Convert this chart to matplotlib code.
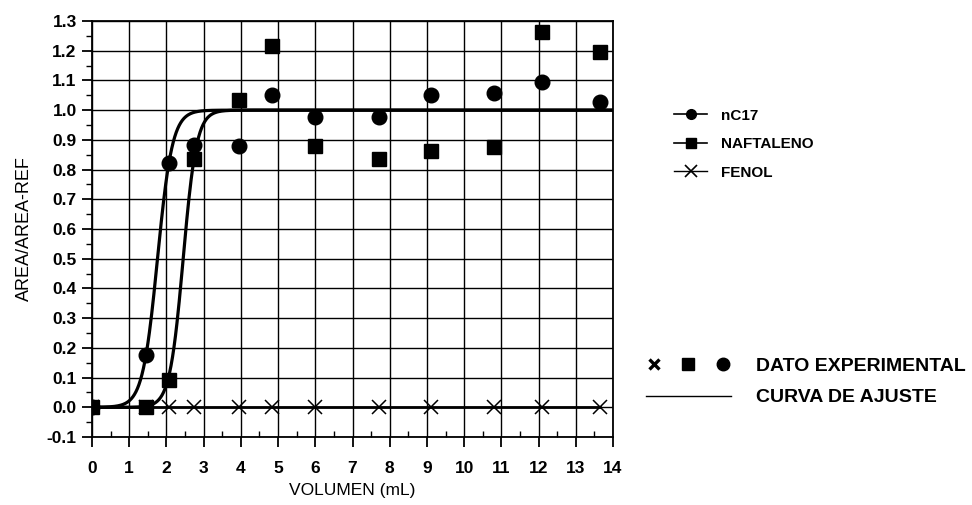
import numpy as np
import matplotlib
matplotlib.use("Agg")
import matplotlib.pyplot as plt
from matplotlib.lines import Line2D
from matplotlib.legend_handler import HandlerTuple
from matplotlib.ticker import MultipleLocator

# Sampled volumes (mL)
volumen = [0.0, 1.44, 2.07, 2.74, 3.95, 4.83, 5.99, 7.72, 9.11, 10.79, 12.09, 13.66]

# Normalised area ratios
nc17 = [0.0, 0.176, 0.823, 0.883, 0.879, 1.051, 0.978, 0.978, 1.051, 1.059, 1.096, 1.026]
naftaleno = [0.0, 0.0, 0.092, 0.835, 1.034, 1.216, 0.879, 0.835, 0.863, 0.877, 1.264, 1.197]
fenol = [0.0] * len(volumen)

# Logistic fit parameters (midpoint, width)
ajuste_nc17 = (1.76, 0.20)
ajuste_naftaleno = (2.45, 0.18)


def logistic(x, x0, w):
    return 1.0 / (1.0 + np.exp(-(x - x0) / w))


plt.rcParams["font.family"] = ["Liberation Sans", "DejaVu Sans"]

fig = plt.figure(figsize=(9.72, 5.05), dpi=100)
W, H = 972, 505
ax = fig.add_axes([92 / W, (H - 437) / H, (613 - 92) / W, (437 - 21) / H])

ax.set_xlim(0, 14)
ax.set_ylim(-0.1, 1.3)
ax.xaxis.set_minor_locator(MultipleLocator(0.5))
ax.yaxis.set_minor_locator(MultipleLocator(0.05))
ax.grid(True, which="major", color="black", linewidth=1.0)
ax.set_axisbelow(True)

for s in ax.spines.values():
    s.set_linewidth(1.3)

ax.tick_params(axis="both", which="major", direction="out", length=7, width=1.3)
ax.tick_params(axis="x", which="major", pad=10)
ax.tick_params(axis="y", which="major", pad=4)
ax.tick_params(axis="x", which="minor", direction="in", length=4, width=1.0)
ax.tick_params(axis="y", which="minor", direction="out", length=4, width=1.0)
ax.set_xticks(np.arange(0, 15, 1))
ax.set_xticklabels([str(i) for i in range(15)], fontweight="bold", fontsize=12.5)
yt = np.round(np.arange(-0.1, 1.31, 0.1), 1)
ax.set_yticks(yt)
ax.set_yticklabels([f"{v:.1f}" for v in yt], fontweight="bold", fontsize=12.5)

# Fitted curves
xs = np.linspace(0, 14, 700)
ax.plot(xs, logistic(xs, *ajuste_nc17), color="black", linewidth=2.3, zorder=3)
ax.plot(xs, logistic(xs, *ajuste_naftaleno), color="black", linewidth=2.3, zorder=3)

# Experimental data
ax.plot(volumen, fenol, color="black", linewidth=2.0, marker="x", markersize=10.5,
        markeredgewidth=1.1, zorder=4)
ax.plot(volumen, naftaleno, linestyle="none", marker="s", markersize=9.5,
        color="black", zorder=5)
ax.plot(volumen, nc17, linestyle="none", marker="o", markersize=10.5,
        color="black", zorder=6)

ax.set_xlabel("VOLUMEN (mL)", fontsize=12.5, labelpad=5)
ax.set_ylabel("AREA/AREA-REF", fontsize=13, labelpad=10)

# Series legend
h1 = Line2D([], [], color="black", linewidth=1.2, marker="o", markersize=7)
h2 = Line2D([], [], color="black", linewidth=1.2, marker="s", markersize=7)
h3 = Line2D([], [], color="black", linewidth=1.0, marker="x", markersize=9,
            markeredgewidth=1.2)
leg1 = fig.legend([h1, h2, h3], ["nC17", "NAFTALENO", "FENOL"],
                  loc="upper left", bbox_to_anchor=(660 / W, 1 - 95 / H),
                  frameon=False, handlelength=2.2, handletextpad=0.9,
                  labelspacing=0.95, prop={"weight": "bold", "size": 11})

# Symbol key
m1 = Line2D([], [], linestyle="none", color="black", marker="x", markersize=7,
            markeredgewidth=2.4)
m2 = Line2D([], [], linestyle="none", color="black", marker="s", markersize=8)
m3 = Line2D([], [], linestyle="none", color="black", marker="o", markersize=9)
c1 = Line2D([], [], color="black", linewidth=1.0)
leg2 = fig.legend([(m1, m2, m3), c1], ["DATO EXPERIMENTAL", "CURVA DE AJUSTE"],
                  handler_map={tuple: HandlerTuple(ndivide=None, pad=0.9)},
                  loc="upper left", bbox_to_anchor=(628 / W, 1 - 340 / H),
                  frameon=False, handlelength=4.4, handletextpad=1.3,
                  labelspacing=0.7, prop={"weight": "bold", "size": 14})

fig.savefig("out.png", dpi=100)
